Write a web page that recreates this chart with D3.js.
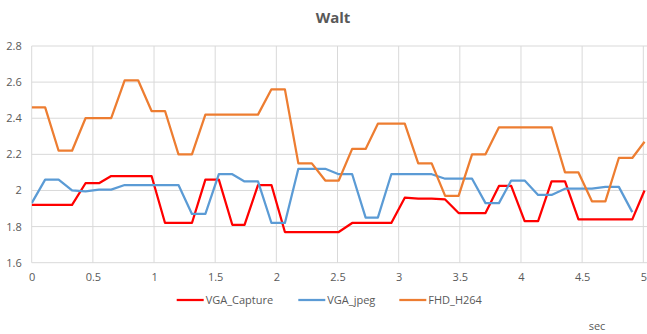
<!DOCTYPE html>
<html>
<head>
<meta charset="utf-8">
<script src="https://cdn.jsdelivr.net/npm/d3@7"></script>
<style>
  html, body { margin: 0; padding: 0; background: #fff; }
  svg { display: block; font-family: "Open Sans", "Liberation Sans", sans-serif; }
</style>
</head>
<body>
<svg id="chart" width="647" height="334"></svg>
<script>
// time stamps (sec)
const times = [0, 0.11, 0.22, 0.33, 0.44, 0.55, 0.65, 0.76, 0.87, 0.98,
  1.09, 1.20, 1.31, 1.42, 1.53, 1.64, 1.74, 1.85, 1.96, 2.07,
  2.18, 2.29, 2.40, 2.51, 2.62, 2.73, 2.83, 2.94, 3.05, 3.16,
  3.27, 3.38, 3.49, 3.60, 3.71, 3.82, 3.92, 4.03, 4.14, 4.25,
  4.36, 4.47, 4.58, 4.69, 4.80, 4.91, 5.01];

const vgaCapture = [1.92, 1.92, 1.92, 1.92, 2.04, 2.04, 2.08, 2.08, 2.08, 2.08,
  1.82, 1.82, 1.82, 2.06, 2.06, 1.81, 1.81, 2.03, 2.03, 1.77,
  1.77, 1.77, 1.77, 1.77, 1.82, 1.82, 1.82, 1.82, 1.96, 1.955,
  1.955, 1.95, 1.875, 1.875, 1.875, 2.025, 2.025, 1.83, 1.83, 2.05,
  2.05, 1.84, 1.84, 1.84, 1.84, 1.84, 2.0];

const vgaJpeg = [1.93, 2.06, 2.06, 2.00, 1.995, 2.005, 2.005, 2.03, 2.03, 2.03,
  2.03, 2.03, 1.87, 1.87, 2.09, 2.09, 2.05, 2.05, 1.82, 1.82,
  2.12, 2.12, 2.12, 2.09, 2.09, 1.85, 1.85, 2.09, 2.09, 2.09,
  2.09, 2.065, 2.065, 2.065, 1.93, 1.93, 2.055, 2.055, 1.975, 1.975,
  2.01, 2.01, 2.01, 2.02, 2.02, 1.88];

const fhdH264 = [2.46, 2.46, 2.22, 2.22, 2.40, 2.40, 2.40, 2.61, 2.61, 2.44,
  2.44, 2.20, 2.20, 2.42, 2.42, 2.42, 2.42, 2.42, 2.56, 2.56,
  2.15, 2.15, 2.055, 2.055, 2.23, 2.23, 2.37, 2.37, 2.37, 2.15,
  2.15, 1.97, 1.97, 2.20, 2.20, 2.35, 2.35, 2.35, 2.35, 2.35,
  2.10, 2.10, 1.94, 1.94, 2.18, 2.18, 2.27];

const xTicks = [0, 0.5, 1, 1.5, 2, 2.5, 3, 3.5, 4, 4.5, 5];
const yTicks = [1.6, 1.8, 2.0, 2.2, 2.4, 2.6, 2.8];
const yTickLabels = ["1.6", "1.8", "2", "2.2", "2.4", "2.6", "2.8"];

const seriesNames = ["VGA_Capture", "VGA_jpeg", "FHD_H264"];
const seriesColors = ["#FF0000", "#5B9BD5", "#ED7D31"];
const seriesValues = [vgaCapture, vgaJpeg, fhdH264];

const svg = d3.select("#chart");
const W = 647, H = 334;
const pLeft = 31.7, pRight = 643.3, pTop = 46, pBottom = 262.7;

const x = d3.scaleLinear().domain([0, 5]).range([pLeft, pRight]);
const y = d3.scaleLinear().domain([1.6, 2.8]).range([pBottom, pTop]);

const textColor = "#595959";
const gridColor = "#d9d9d9";

// horizontal grid
svg.append("g").selectAll("line").data(yTicks).join("line")
  .attr("x1", pLeft).attr("x2", W)
  .attr("y1", d => y(d)).attr("y2", d => y(d))
  .attr("stroke", gridColor).attr("stroke-width", 1);

// vertical grid
svg.append("g").selectAll("line").data(xTicks).join("line")
  .attr("x1", d => x(d)).attr("x2", d => x(d))
  .attr("y1", pTop).attr("y2", pBottom)
  .attr("stroke", gridColor).attr("stroke-width", 1);

// axes (labels only, via d3 axes)
const xAxis = d3.axisBottom(x).tickValues(xTicks).tickSize(0).tickPadding(0)
  .tickFormat(d3.format("~g"));
const gx = svg.append("g").attr("transform", `translate(0,${pBottom + 10})`).call(xAxis);
gx.select(".domain").remove();
gx.selectAll("text").attr("fill", textColor).attr("font-size", 11)
  .attr("font-family", "Open Sans, Liberation Sans, sans-serif");

const yAxis = d3.axisLeft(y).tickValues(yTicks).tickSize(0).tickPadding(0)
  .tickFormat((d, i) => yTickLabels[i]);
const gy = svg.append("g").attr("transform", `translate(${pLeft - 10},0)`).call(yAxis);
gy.select(".domain").remove();
gy.selectAll("text").attr("fill", textColor).attr("font-size", 11)
  .attr("font-family", "Open Sans, Liberation Sans, sans-serif");

// clip for plot
svg.append("clipPath").attr("id", "plotclip").append("rect")
  .attr("x", pLeft).attr("y", 0).attr("width", W - pLeft).attr("height", H);

const line = d3.line().x(d => x(d[0])).y(d => y(d[1]));
const plot = svg.append("g").attr("clip-path", "url(#plotclip)");
seriesValues.forEach((vals, k) => {
  const pts = vals.map((v, i) => [times[i], v]);
  plot.append("path").datum(pts)
    .attr("d", line)
    .attr("fill", "none")
    .attr("stroke", seriesColors[k])
    .attr("stroke-width", 2.25)
    .attr("stroke-linejoin", "round");
});

// title
svg.append("text").attr("x", 333).attr("y", 23).attr("text-anchor", "middle")
  .attr("font-size", 15).attr("font-weight", "bold").attr("fill", textColor)
  .text("Walt");

// legend
const legendX = [176.7, 298.3, 399.3];
const lg = svg.append("g");
seriesNames.forEach((name, k) => {
  lg.append("line").attr("x1", legendX[k]).attr("x2", legendX[k] + 27)
    .attr("y1", 300).attr("y2", 300)
    .attr("stroke", seriesColors[k]).attr("stroke-width", 2.25);
  lg.append("text").attr("x", legendX[k] + 29).attr("y", 304)
    .attr("font-size", 11).attr("fill", textColor).text(name);
});

// axis title
svg.append("text").attr("x", 597).attr("y", 330).attr("text-anchor", "middle")
  .attr("font-size", 11).attr("fill", textColor).text("sec");
</script>
</body>
</html>
